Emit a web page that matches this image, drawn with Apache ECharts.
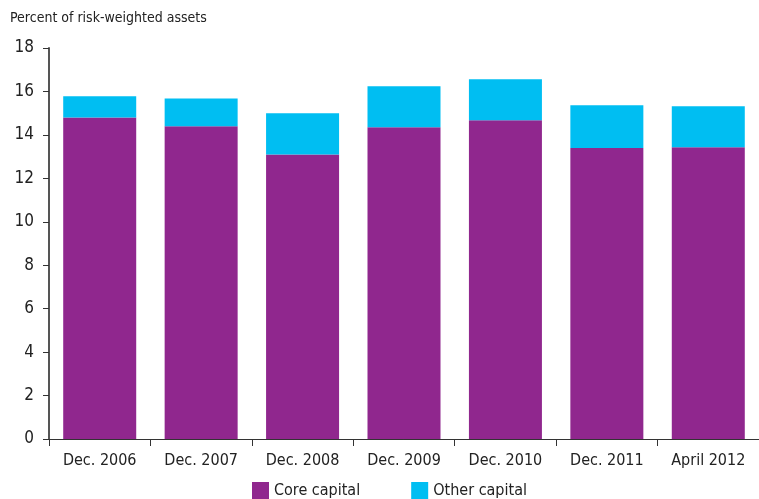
<!DOCTYPE html>
<html><head><meta charset="utf-8">
<script src="https://cdn.jsdelivr.net/npm/echarts@6/dist/echarts.min.js"></script>
<style>html,body{margin:0;padding:0;background:#fff}#c{width:759px;height:499px}</style>
</head><body><div id="c"></div>
<script>
const categories = ['Dec. 2006','Dec. 2007','Dec. 2008','Dec. 2009','Dec. 2010','Dec. 2011','April 2012'];
const coreCapital = [14.8, 14.4, 13.1, 14.35, 14.67, 13.4, 13.43];
const otherCapital = [0.98, 1.28, 1.9, 1.89, 1.89, 1.96, 1.89];
const yTicks = {min: 0, max: 18, interval: 2};
const FONT = '"DejaVu Sans Condensed","Liberation Sans Narrow",sans-serif';
const chart = echarts.init(document.getElementById('c'));
chart.setOption({
  animation: false,
  title: {text: 'Percent of risk-weighted assets', left: 5, top: 6,
    textStyle: {fontFamily: FONT, fontSize: 14, fontWeight: 'normal', color: '#222'}},
  legend: {bottom: -5, left: 247, itemWidth: 17, itemHeight: 17, itemGap: 51,
    icon: 'rect', textStyle: {fontFamily: FONT, fontSize: 16, color: '#222'},
    data: ['Core capital','Other capital']},
  grid: {left: 49, right: -2, top: 48, bottom: 60},
  xAxis: {type: 'category', data: categories,
    axisLine: {lineStyle: {color: '#333', width: 1}},
    axisTick: {show: true, length: 7, lineStyle: {color: '#333'}},
    axisLabel: {fontFamily: FONT, fontSize: 16, color: '#222', margin: 14, interval: 0}},
  yAxis: {type: 'value', min: yTicks.min, max: yTicks.max, interval: yTicks.interval,
    axisLine: {show: true, lineStyle: {color: '#555', width: 2}},
    axisTick: {show: true, length: 6, lineStyle: {color: '#333'}},
    splitLine: {show: false},
    axisLabel: {fontFamily: FONT, fontSize: 17, color: '#222', margin: 15}},
  series: [
    {name: 'Core capital', type: 'bar', stack: 'a', data: coreCapital, barWidth: 73,
      itemStyle: {color: '#90278E'}},
    {name: 'Other capital', type: 'bar', stack: 'a', data: otherCapital, barWidth: 73,
      itemStyle: {color: '#00BEF2'}}
  ]
});
</script></body></html>
